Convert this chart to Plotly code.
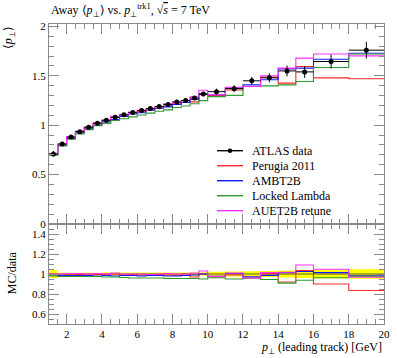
import plotly.graph_objects as go

# ---- data ----
bin_edges = [1.0, 1.5, 2.0, 2.5, 3.0, 3.5, 4.0, 4.5, 5.0, 5.5, 6.0, 6.5, 7.0, 7.5,
             8.0, 8.5, 9.0, 9.5, 10.0, 11.0, 12.0, 13.0, 14.0, 15.0, 16.0, 18.0, 20.0]
data_y = [0.71, 0.81, 0.88, 0.935, 0.98, 1.02, 1.05, 1.08, 1.105, 1.13, 1.15, 1.17, 1.19,
          1.21, 1.235, 1.25, 1.275, 1.315, 1.34, 1.37, 1.45, 1.48, 1.55, 1.54, 1.645, 1.76]
data_err = [0.028, 0.011, 0.012, 0.012, 0.013, 0.014, 0.015, 0.015, 0.016, 0.016, 0.017, 0.017,
            0.018, 0.018, 0.019, 0.02, 0.02, 0.022, 0.03, 0.035, 0.04, 0.045, 0.055, 0.06, 0.07, 0.085]
perugia2011 = [0.71, 0.802, 0.871, 0.93, 0.98, 1.015, 1.05, 1.08, 1.094, 1.124, 1.139, 1.158, 1.184,
               1.198, 1.216, 1.25, 1.237, 1.315, 1.30, 1.356, 1.392, 1.487, 1.426, 1.594, 1.48, 1.47]
ambt2b = [0.703, 0.798, 0.867, 0.921, 0.965, 1.0, 1.034, 1.058, 1.088, 1.113, 1.127, 1.152, 1.172,
          1.186, 1.21, 1.231, 1.262, 1.315, 1.308, 1.376, 1.409, 1.46, 1.571, 1.578, 1.668, 1.729]
locked_lambda = [0.696, 0.79, 0.858, 0.912, 0.956, 0.995, 1.019, 1.048, 1.066, 1.085, 1.104, 1.123,
                 1.142, 1.156, 1.179, 1.194, 1.218, 1.249, 1.29, 1.302, 1.392, 1.399, 1.409, 1.443,
                 1.584, 1.721]
auet2b_retune = [0.71, 0.81, 0.884, 0.94, 0.98, 1.025, 1.05, 1.091, 1.105, 1.13, 1.15, 1.164, 1.19,
                 1.216, 1.235, 1.25, 1.288, 1.354, 1.308, 1.384, 1.392, 1.501, 1.578, 1.679, 1.722,
                 1.702]

mc_series = [
    ("Perugia 2011", perugia2011, "#ff2a2a"),
    ("AMBT2B", ambt2b, "#1a1aff"),
    ("Locked Lambda", locked_lambda, "#2e9a2e"),
    ("AUET2B retune", auet2b_retune, "#ff30ff"),
]

centers = [(a + b) / 2 for a, b in zip(bin_edges[:-1], bin_edges[1:])]
halfw = [(b - a) / 2 for a, b in zip(bin_edges[:-1], bin_edges[1:])]

FONT = "Liberation Serif"
GRAY = "#8a8a8a"

fig = go.Figure()

def step_xy(vals):
    return bin_edges, list(vals) + [vals[-1]]

# ratio band (data uncertainty)
lo = [1 - e / d for e, d in zip(data_err, data_y)]
hi = [1 + e / d for e, d in zip(data_err, data_y)]
x, y = step_xy(lo)
fig.add_trace(go.Scatter(x=x, y=y, mode="lines", line=dict(width=0, shape="hv"),
                         xaxis="x2", yaxis="y2", showlegend=False, hoverinfo="skip"))
x, y = step_xy(hi)
fig.add_trace(go.Scatter(x=x, y=y, mode="lines", line=dict(width=0, shape="hv"),
                         fill="tonexty", fillcolor="#ffff00",
                         xaxis="x2", yaxis="y2", showlegend=False, hoverinfo="skip"))
fig.add_trace(go.Scatter(x=[bin_edges[0], bin_edges[-1]], y=[1, 1], mode="lines",
                         line=dict(color="#333333", width=0.8),
                         xaxis="x2", yaxis="y2", showlegend=False))

# MC lines
for name, vals, col in mc_series:
    x, y = step_xy(vals)
    fig.add_trace(go.Scatter(x=x, y=y, mode="lines", line=dict(color=col, width=1.1, shape="hv"),
                             name=name, showlegend=False, xaxis="x", yaxis="y"))
    ratio = [m / d for m, d in zip(vals, data_y)]
    x, y = step_xy(ratio)
    fig.add_trace(go.Scatter(x=x, y=y, mode="lines", line=dict(color=col, width=1.1, shape="hv"),
                             showlegend=False, xaxis="x2", yaxis="y2"))

# data
fig.add_trace(go.Scatter(x=centers, y=data_y, mode="markers",
                         marker=dict(color="black", size=5),
                         error_x=dict(type="data", array=halfw, color="black", thickness=1, width=0),
                         error_y=dict(type="data", array=data_err, color="black", thickness=1, width=0),
                         name="ATLAS data", showlegend=False, xaxis="x", yaxis="y"))

tickfont = dict(family=FONT, size=11, color="black")
common_x = dict(range=[1, 20], dtick=2, tick0=0, ticks="inside", ticklen=10, tickcolor=GRAY,
                showline=True, linecolor=GRAY, linewidth=1, mirror="ticks", showgrid=False,
                zeroline=False, automargin=False,
                minor=dict(dtick=0.5, ticks="inside", ticklen=5, tickcolor=GRAY, showgrid=False),
                tickfont=tickfont)
fig.update_layout(
    width=397, height=358,
    margin=dict(l=49, r=13, t=24, b=34),
    paper_bgcolor="white", plot_bgcolor="white",
    showlegend=False,
    xaxis=dict(common_x, domain=[0, 1], anchor="y", showticklabels=False, matches="x2"),
    xaxis2=dict(common_x, domain=[0, 1], anchor="y2", showticklabels=True),
    yaxis=dict(domain=[1/3, 1], anchor="x", range=[0, 2.025], dtick=0.5, tick0=0, ticks="inside",
               ticklen=10, tickcolor=GRAY, showline=True, linecolor=GRAY, linewidth=1,
               mirror="ticks", showgrid=False, zeroline=False, tickfont=tickfont, automargin=False,
               minor=dict(dtick=0.1, ticks="inside", ticklen=5, tickcolor=GRAY, showgrid=False)),
    yaxis2=dict(domain=[0, 1/3], anchor="x2", range=[0.5, 1.5], dtick=0.2, tick0=0, ticks="inside",
                ticklen=10, tickcolor=GRAY, showline=True, linecolor=GRAY, linewidth=1,
                mirror="ticks", showgrid=False, zeroline=False, tickfont=tickfont, automargin=False,
                minor=dict(dtick=0.05, ticks="inside", ticklen=5, tickcolor=GRAY, showgrid=False)),
    font=dict(family=FONT, size=11, color="black"),
)

ann = []
ann.append(dict(text="Away ⟨<i>p</i><sub>⊥</sub>⟩ vs. <i>p</i><sub>⊥</sub><sup>trk1</sup>, √<span style='text-decoration:overline'><i>s</i></span> = 7 TeV",
                xref="paper", yref="paper", x=0, y=1, xanchor="left", yanchor="bottom",
                yshift=3, showarrow=False, font=dict(family=FONT, size=12)))
ann.append(dict(text="⟨<i>p</i><sub>⊥</sub>⟩", textangle=-90, xref="paper", yref="paper",
                x=-0.12, y=1, xanchor="center", yanchor="top", showarrow=False,
                font=dict(family=FONT, size=12)))
ann.append(dict(text="MC/data", textangle=-90, xref="paper", yref="paper",
                x=-0.11, y=0.17, xanchor="center", yanchor="middle", showarrow=False,
                font=dict(family=FONT, size=12)))
ann.append(dict(text="<i>p</i><sub>⊥</sub> (leading track) [GeV]", xref="paper", yref="paper",
                x=1, y=-0.08, xanchor="right", yanchor="middle", showarrow=False,
                font=dict(family=FONT, size=12)))

# legend (manual)
legend_items = [("ATLAS data", "black")] + [(n, c) for n, _, c in mc_series]
shapes = []
x0p = (217 - 49) / 335
x1p = (243 - 49) / 335
xt = (250 - 49) / 335
for i, (name, col) in enumerate(legend_items):
    yp = (324 - (150.7 + 15 * i)) / 300
    shapes.append(dict(type="line", xref="paper", yref="paper", x0=x0p, x1=x1p, y0=yp, y1=yp,
                       line=dict(color=col, width=1.4)))
    if i == 0:
        cx = (x0p + x1p) / 2
        shapes.append(dict(type="circle", xref="paper", yref="paper",
                           x0=cx - 2.3 / 335, x1=cx + 2.3 / 335, y0=yp - 2.3 / 300, y1=yp + 2.3 / 300,
                           fillcolor="black", line=dict(color="black", width=0)))
    ann.append(dict(text=name, xref="paper", yref="paper", x=xt, y=yp, xanchor="left",
                    yanchor="middle", showarrow=False, font=dict(family=FONT, size=12)))

fig.update_layout(annotations=ann, shapes=shapes)
fig.write_html("out.html", config={"displayModeBar": False},
               post_script="document.body.style.margin='0';document.body.style.padding='0';")
